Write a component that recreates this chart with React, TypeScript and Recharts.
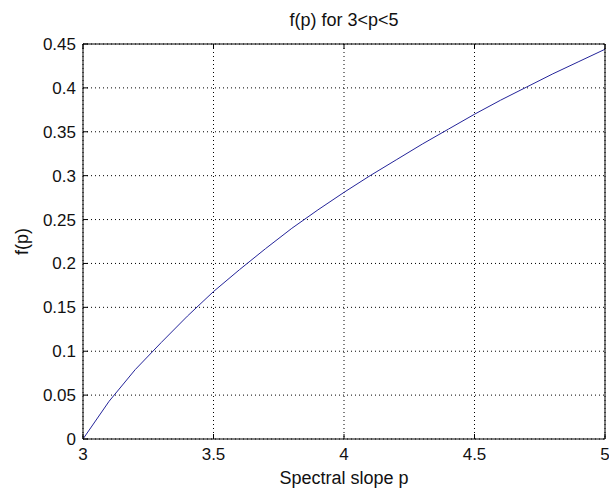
import React from 'react';
import { LineChart, Line, XAxis, YAxis, CartesianGrid } from 'recharts';

const pValues = [3.0, 3.1, 3.2, 3.3, 3.4, 3.5, 3.6, 3.7, 3.8, 3.9, 4.0, 4.1, 4.2, 4.3, 4.4, 4.5, 4.6, 4.7, 4.8, 4.9, 5.0];
const fValues = [0, 0.043, 0.079, 0.11, 0.14, 0.168, 0.193, 0.217, 0.24, 0.261, 0.281, 0.3, 0.318, 0.336, 0.353, 0.37, 0.386, 0.401, 0.416, 0.43, 0.444];
const xTicks = [3, 3.5, 4, 4.5, 5];
const yTicks = [0, 0.05, 0.1, 0.15, 0.2, 0.25, 0.3, 0.35, 0.4, 0.45];
const titleText = 'f(p) for 3<p<5';
const xLabelText = 'Spectral slope p';
const yLabelText = 'f(p)';

const data = pValues.map((p, i) => ({ p, f: fValues[i] }));

const FONT = '"Liberation Sans", Arial, sans-serif';
const TICK_LEN = 5;

const BottomTick = (props: any) => {
  const { x, y, payload } = props;
  const axisY = y - 9;
  return (
    <g>
      <line x1={x} x2={x} y1={axisY} y2={axisY - TICK_LEN} stroke="#000" strokeWidth={1} />
      <text x={x} y={y} dy="0.71em" textAnchor="middle" fontFamily={FONT} fontSize={17} fill="#111">
        {String(payload.value)}
      </text>
    </g>
  );
};

const LeftTick = (props: any) => {
  const { x, y, payload } = props;
  const axisX = x + 7;
  return (
    <g>
      <line x1={axisX} x2={axisX + TICK_LEN} y1={y} y2={y} stroke="#000" strokeWidth={1} />
      <text x={x} y={y} dy="0.355em" textAnchor="end" fontFamily={FONT} fontSize={17} fill="#111">
        {String(payload.value)}
      </text>
    </g>
  );
};

const TopTick = (props: any) => {
  const { x, y } = props;
  return <line x1={x} x2={x} y1={y} y2={y + TICK_LEN} stroke="#000" strokeWidth={1} />;
};

const RightTick = (props: any) => {
  const { x, y } = props;
  return <line x1={x} x2={x - TICK_LEN} y1={y} y2={y} stroke="#000" strokeWidth={1} />;
};

const TitleLabel = (props: any) => {
  const vb = props.viewBox || {};
  return (
    <text x={vb.x + vb.width / 2} y={vb.y + vb.height - 18} textAnchor="middle" fontFamily={FONT} fontSize={18} fill="#111">
      {titleText}
    </text>
  );
};

const XLabel = (props: any) => {
  const vb = props.viewBox || {};
  return (
    <text x={vb.x + vb.width / 2} y={vb.y + 45} textAnchor="middle" fontFamily={FONT} fontSize={18} fill="#111">
      {xLabelText}
    </text>
  );
};

const YLabel = (props: any) => {
  const vb = props.viewBox || {};
  const cx = vb.x + vb.width - 55;
  const cy = vb.y + vb.height / 2;
  return (
    <text x={cx} y={cy} textAnchor="middle" transform={`rotate(-90, ${cx}, ${cy})`} fontFamily={FONT} fontSize={18} fill="#111">
      {yLabelText}
    </text>
  );
};

export default function App() {
  return (
    <div style={{ position: 'absolute', left: 0, top: 0, width: 609, height: 488, background: '#fff' }}>
      <LineChart width={609} height={488} data={data} margin={{ top: 14, right: 3, bottom: 9, left: 13 }}>
        <CartesianGrid stroke="#000" strokeDasharray="1 3" strokeWidth={1} xAxisId="bottom" yAxisId="left" />
        <XAxis
          xAxisId="bottom"
          dataKey="p"
          type="number"
          domain={[3, 5]}
          ticks={xTicks}
          height={40}
          tickSize={0}
          tickMargin={9}
          tickLine={false}
          axisLine={{ stroke: '#000', strokeWidth: 1 }}
          tick={<BottomTick />}
          interval={0}
          label={<XLabel />}
        />
        <XAxis
          xAxisId="top"
          orientation="top"
          dataKey="p"
          type="number"
          domain={[3, 5]}
          ticks={xTicks}
          height={30}
          tickSize={0}
          tickMargin={0}
          tickLine={false}
          axisLine={{ stroke: '#000', strokeWidth: 1 }}
          tick={<TopTick />}
          interval={0}
          label={<TitleLabel />}
        />
        <YAxis
          yAxisId="left"
          type="number"
          domain={[0, 0.45]}
          ticks={yTicks}
          width={70}
          tickSize={0}
          tickMargin={7}
          tickLine={false}
          axisLine={{ stroke: '#000', strokeWidth: 1 }}
          tick={<LeftTick />}
          interval={0}
          label={<YLabel />}
        />
        <YAxis
          yAxisId="right"
          orientation="right"
          type="number"
          domain={[0, 0.45]}
          ticks={yTicks}
          width={1}
          tickSize={0}
          tickMargin={0}
          tickLine={false}
          axisLine={{ stroke: '#000', strokeWidth: 1 }}
          tick={<RightTick />}
          interval={0}
        />
        <Line
          xAxisId="bottom"
          yAxisId="left"
          type="linear"
          dataKey="f"
          stroke="#24249a"
          strokeWidth={1}
          dot={false}
          isAnimationActive={false}
        />
      </LineChart>
    </div>
  );
}
